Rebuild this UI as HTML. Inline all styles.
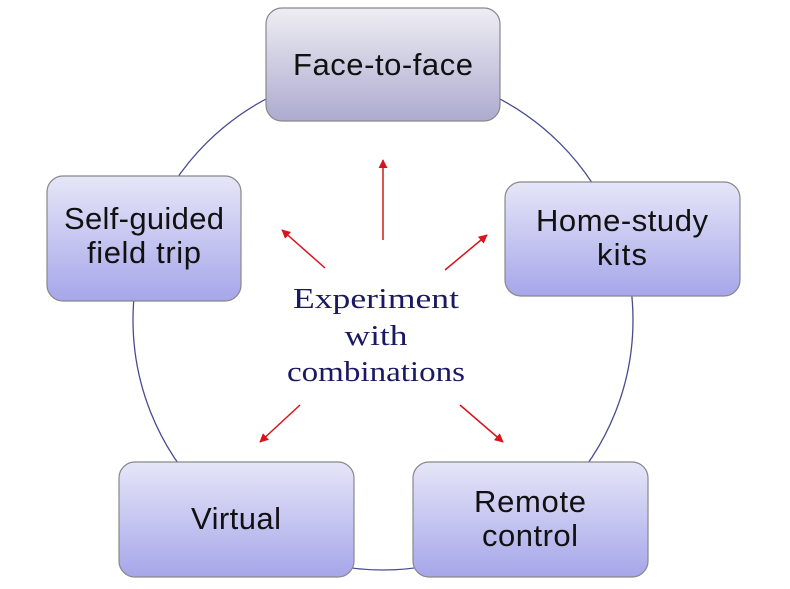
<!DOCTYPE html>
<html><head><meta charset="utf-8"><style>
html,body{margin:0;padding:0;background:#fff;width:790px;height:589px;overflow:hidden}
</style></head><body>
<svg width="790" height="589" viewBox="0 0 790 589" xmlns="http://www.w3.org/2000/svg">
<defs>
<linearGradient id="g1" x1="0" y1="0" x2="0" y2="1"><stop offset="0" stop-color="#eeedf3"/><stop offset="1" stop-color="#adabcf"/></linearGradient>
<linearGradient id="g2" x1="0" y1="0" x2="0" y2="1"><stop offset="0" stop-color="#e6e6f8"/><stop offset="1" stop-color="#a6a6ea"/></linearGradient>
<marker id="ah" viewBox="0 0 10 10" refX="9" refY="5" markerWidth="9" markerHeight="9" markerUnits="userSpaceOnUse" orient="auto"><path d="M0,0 L10,5 L0,10 z" fill="#d8141c"/></marker>
</defs>
<circle cx="383" cy="320" r="250" fill="none" stroke="#4a4a90" stroke-width="1.3"/>
<g stroke="#888" stroke-width="1.2">
<rect x="266" y="8" width="234" height="113" rx="16" fill="url(#g1)"/>
<rect x="505" y="182" width="235" height="114" rx="16" fill="url(#g2)"/>
<rect x="413" y="462" width="235" height="115" rx="16" fill="url(#g2)"/>
<rect x="119" y="462" width="235" height="115" rx="16" fill="url(#g2)"/>
<rect x="47" y="176" width="194" height="125" rx="16" fill="url(#g2)"/>
</g>
<g font-family="Liberation Sans, sans-serif" font-size="31" fill="#111" text-anchor="middle" lengthAdjust="spacingAndGlyphs">
<text x="383" y="75" textLength="180">Face-to-face</text>
<text x="622" y="231" textLength="172">Home-study</text>
<text x="622" y="265" textLength="50">kits</text>
<text x="530" y="512" textLength="112">Remote</text>
<text x="530" y="546" textLength="96">control</text>
<text x="236" y="529" textLength="90">Virtual</text>
<text x="144" y="229" textLength="160">Self-guided</text>
<text x="144" y="263" textLength="114">field trip</text>
</g>
<g font-family="Liberation Serif, serif" font-size="29" fill="#1a1a62" text-anchor="middle">
<text x="376" y="308" textLength="166" lengthAdjust="spacingAndGlyphs">Experiment</text>
<text x="376" y="345" textLength="63" lengthAdjust="spacingAndGlyphs">with</text>
<text x="376" y="381" textLength="178" lengthAdjust="spacingAndGlyphs">combinations</text>
</g>
<g stroke="#d8141c" stroke-width="1.5" marker-end="url(#ah)">
<line x1="383" y1="240" x2="383" y2="160"/>
<line x1="325" y1="268" x2="282" y2="230"/>
<line x1="445" y1="270" x2="487" y2="235"/>
<line x1="300" y1="405" x2="260" y2="442"/>
<line x1="460" y1="405" x2="503" y2="442"/>
</g>
</svg>
</body></html>
